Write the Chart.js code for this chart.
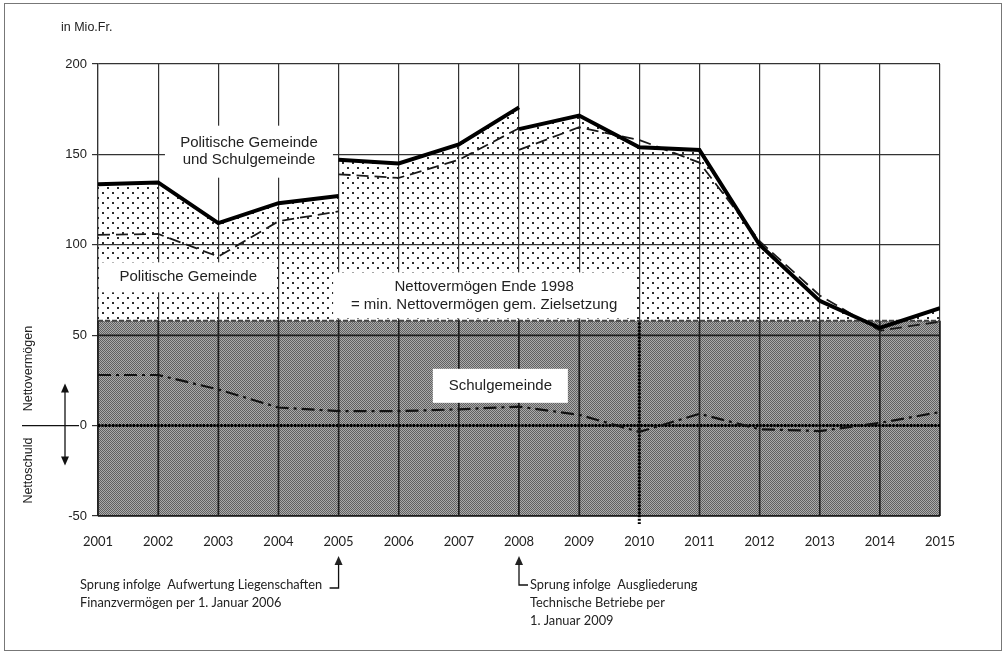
<!DOCTYPE html>
<html>
<head>
<meta charset="utf-8">
<script src="https://cdn.jsdelivr.net/npm/chart.js@4.4.0/dist/chart.umd.min.js"></script>
<style>
  html, body { margin: 0; padding: 0; background: #fff; }
  canvas { display: block; }
</style>
</head>
<body>
<canvas id="chart" width="1006" height="655"></canvas>
<script>
// Jahre (x-Achse)
const jahre = [2001, 2002, 2003, 2004, 2005, 2006, 2007, 2008, 2009, 2010, 2011, 2012, 2013, 2014, 2015];

// Politische Gemeinde und Schulgemeinde (in Mio. Fr.)
const gesamt = [133.5, 134.5, 112, 123, 127, 145, 155.5, 176, 171.5, 154, 152.5, 100, 69, 54, 65];
const gesamtNachSprung = { 2005: 147, 2008: 164 };

// Politische Gemeinde
const politisch = [105.5, 106, 93.5, 113, 118.5, 137, 147, 164.5, 165, 158, 145.5, 102, 72, 52.5, 57.5];
const politischNachSprung = { 2005: 139, 2008: 152.5 };

// Schulgemeinde
const schule = [28, 28, 20, 10, 8, 8, 9, 10.5, 6, -3.5, 6.5, -2, -3, 1.5, 7.5];

// Nettovermögen Ende 1998
const mindestNiveau = 58;

const yTicks = [-50, 0, 50, 100, 150, 200];

// Punkte bauen, bei einem Sprung eine Lücke einfügen
function punkte(werte, sprung) {
    const p = [];
    jahre.forEach((j, i) => {
        p.push({ x: j, y: werte[i] });
        if (sprung && sprung[j] !== undefined) {
            p.push({ x: j, y: null });
            p.push({ x: j, y: sprung[j] });
        }
    });
    return p;
}

// Muster: Punkte und dunkles Raster (halbtransparent, damit das Gitter durchscheint)
function musterPunkte() {
    const c = document.createElement('canvas');
    c.width = 10; c.height = 10;
    const g = c.getContext('2d');
    g.fillStyle = '#2a2a2a';
    g.fillRect(2, 2, 2, 2);
    g.fillRect(7, 7, 2, 2);
    return g.createPattern(c, 'repeat');
}

function musterRaster() {
    const c = document.createElement('canvas');
    c.width = 2; c.height = 2;
    const g = c.getContext('2d');
    g.fillStyle = 'rgba(0,0,0,0.33)';
    g.fillRect(0, 1, 1, 1);
    g.fillRect(1, 0, 1, 1);
    g.fillStyle = 'rgba(0,0,0,0.62)';
    g.fillRect(0, 0, 1, 1);
    g.fillRect(1, 1, 1, 1);
    return g.createPattern(c, 'repeat');
}

const ctx = document.getElementById('chart').getContext('2d');

const BAND = 3;

function kasten(c, cx, cy, w, h, zeilen, lh) {
    c.fillStyle = '#fff';
    c.fillRect(cx - w / 2, cy - h / 2, w, h);
    c.fillStyle = '#222';
    c.font = '15px "Liberation Sans", Arial, sans-serif';
    c.textAlign = 'center';
    c.textBaseline = 'middle';
    zeilen.forEach((t, i) => c.fillText(t, cx, cy + (i - (zeilen.length - 1) / 2) * lh));
}

function pfeilSpitze(c, x, y, dir) {
    c.beginPath();
    c.moveTo(x, y);
    c.lineTo(x - 4, y + dir * 9);
    c.lineTo(x + 4, y + dir * 9);
    c.closePath();
    c.fill();
}

const zusatz = {
    id: 'zusatz',
    afterDatasetDraw(chart, args) {
        if (args.index !== BAND) return;
        const { ctx: c, chartArea: a, scales: { x, y } } = chart;
        const yBand = y.getPixelForValue(mindestNiveau);
        c.save();
        // Gitter im dunklen Band kräftiger
        c.strokeStyle = '#1e1e1e';
        c.lineWidth = 1.5;
        c.beginPath();
        jahre.forEach(j => {
            const px = x.getPixelForValue(j);
            c.moveTo(px, yBand); c.lineTo(px, a.bottom);
        });
        yTicks.filter(v => v < mindestNiveau).forEach(v => {
            const py = y.getPixelForValue(v);
            c.moveTo(a.left, py); c.lineTo(a.right, py);
        });
        c.stroke();

        c.strokeStyle = '#000';
        c.lineWidth = 3;
        c.setLineDash([2, 1.5]);
        const y0 = y.getPixelForValue(0);
        c.beginPath(); c.moveTo(a.left, y0); c.lineTo(a.right, y0); c.stroke();
        const x10 = x.getPixelForValue(2010);
        c.beginPath(); c.moveTo(x10, yBand + 2); c.lineTo(x10, a.bottom + 8); c.stroke();
        c.restore();
    },
    afterDraw(chart) {
        const { ctx: c, scales: { x, y } } = chart;
        c.save();
        // Beschriftungen im Diagramm
        kasten(c, x.getPixelForValue(2003.51), y.getPixelForValue(151.5), 168, 52,
            ['Politische Gemeinde', 'und Schulgemeinde'], 17);
        kasten(c, x.getPixelForValue(2002.5), y.getPixelForValue(82), 177, 30,
            ['Politische Gemeinde'], 17);
        kasten(c, x.getPixelForValue(2007.42), y.getPixelForValue(72), 302, 46,
            ['Nettovermögen Ende 1998', '= min. Nettovermögen gem. Zielsetzung'], 18);
        kasten(c, x.getPixelForValue(2007.69), y.getPixelForValue(22), 135, 34,
            ['Schulgemeinde'], 17);

        // Titel der y-Achse
        c.fillStyle = '#222';
        c.font = '12.5px "Liberation Sans", Arial, sans-serif';
        c.textAlign = 'left';
        c.textBaseline = 'middle';
        c.fillText('in Mio.Fr.', 61, 28);

        // Nettovermögen / Nettoschuld links
        const y0 = y.getPixelForValue(0);
        c.strokeStyle = '#111';
        c.fillStyle = '#111';
        c.lineWidth = 1.3;
        c.beginPath(); c.moveTo(22, y0); c.lineTo(79, y0); c.stroke();
        c.beginPath(); c.moveTo(65, y0 - 38); c.lineTo(65, y0 + 36); c.stroke();
        pfeilSpitze(c, 65, y0 - 42, 1);
        pfeilSpitze(c, 65, y0 + 40, -1);
        c.font = '12.5px "Liberation Sans", Arial, sans-serif';
        c.textAlign = 'center';
        c.fillStyle = '#222';
        c.save();
        c.translate(29, y0 - 57);
        c.rotate(-Math.PI / 2);
        c.fillText('Nettovermögen', 0, 0);
        c.restore();
        c.save();
        c.translate(29, y0 + 45);
        c.rotate(-Math.PI / 2);
        c.fillText('Nettoschuld', 0, 0);
        c.restore();

        // Hinweise unter der x-Achse
        c.font = '12.8px Lato, "Open Sans", sans-serif';
        c.textAlign = 'left';
        c.fillStyle = '#222';
        c.strokeStyle = '#111';
        c.lineWidth = 1.3;
        const x05 = x.getPixelForValue(2005);
        pfeilSpitze(c, x05, 556, 1);
        c.beginPath(); c.moveTo(x05, 564); c.lineTo(x05, 588); c.lineTo(x05 - 9, 588); c.stroke();
        c.fillText('Sprung infolge  Aufwertung Liegenschaften', 80, 585);
        c.fillText('Finanzvermögen per 1. Januar 2006', 80, 603);

        const x08 = x.getPixelForValue(2008);
        pfeilSpitze(c, x08, 556, 1);
        c.beginPath(); c.moveTo(x08, 564); c.lineTo(x08, 585); c.lineTo(x08 + 9, 585); c.stroke();
        c.fillText('Sprung infolge  Ausgliederung', x08 + 11, 585);
        c.fillText('Technische Betriebe per', x08 + 11, 603);
        c.fillText('1. Januar 2009', x08 + 11, 621);

        // Rahmen
        c.strokeStyle = '#777';
        c.lineWidth = 1;
        c.strokeRect(4.5, 3.5, 997, 647);
        c.restore();
    }
};

const config = {
    type: 'line',
    data: {
        datasets: [
            {
                label: 'Politische Gemeinde und Schulgemeinde',
                data: punkte(gesamt, gesamtNachSprung),
                borderColor: '#000',
                borderWidth: 4,
                fill: { value: mindestNiveau, above: musterPunkte(), below: 'rgba(0,0,0,0)' },
                order: 1
            },
            {
                label: 'Politische Gemeinde',
                data: punkte(politisch, politischNachSprung),
                borderColor: '#1a1a1a',
                borderWidth: 1.8,
                borderDash: [12, 6],
                fill: false,
                order: 2
            },
            {
                label: 'Schulgemeinde',
                data: punkte(schule),
                borderColor: '#111',
                borderWidth: 2.2,
                borderDash: [13, 5, 3, 5],
                fill: false,
                order: 3
            },
            {
                label: 'Nettovermögen Ende 1998',
                data: jahre.map(j => ({ x: j, y: mindestNiveau })),
                borderColor: '#444',
                borderWidth: 2,
                borderDash: [5, 2],
                backgroundColor: musterRaster(),
                fill: 'start',
                order: 9
            }
        ]
    },
    options: {
        responsive: false,
        animation: false,
        layout: { padding: { left: 0, top: 64, right: 66, bottom: 99 } },
        elements: { point: { radius: 0 }, line: { tension: 0 } },
        plugins: {
            legend: { display: false },
            tooltip: { enabled: false },
            filler: { drawTime: 'beforeDatasetsDraw' }
        },
        scales: {
            x: {
                type: 'linear',
                min: jahre[0],
                max: jahre[jahre.length - 1],
                afterBuildTicks: s => { s.ticks = jahre.map(v => ({ value: v })); },
                afterFit: s => { s.height = 40; },
                grid: { color: '#333', lineWidth: 1.2, drawTicks: false },
                border: { display: false },
                ticks: {
                    padding: 18,
                    color: '#222',
                    font: { family: 'Lato, "Open Sans", sans-serif', size: 13 },
                    callback: v => String(v)
                }
            },
            y: {
                min: yTicks[0],
                max: yTicks[yTicks.length - 1],
                afterBuildTicks: s => { s.ticks = yTicks.map(v => ({ value: v })); },
                afterFit: s => { s.width = 98; },
                grid: { color: '#333', lineWidth: 1.2, tickLength: 6 },
                border: { display: true, color: '#333', width: 1.2 },
                ticks: {
                    padding: 5,
                    color: '#222',
                    font: { family: '"Liberation Sans", Arial, sans-serif', size: 13 }
                }
            }
        }
    },
    plugins: [zusatz]
};

const chart = new Chart(ctx, config);
</script>
</body>
</html>
